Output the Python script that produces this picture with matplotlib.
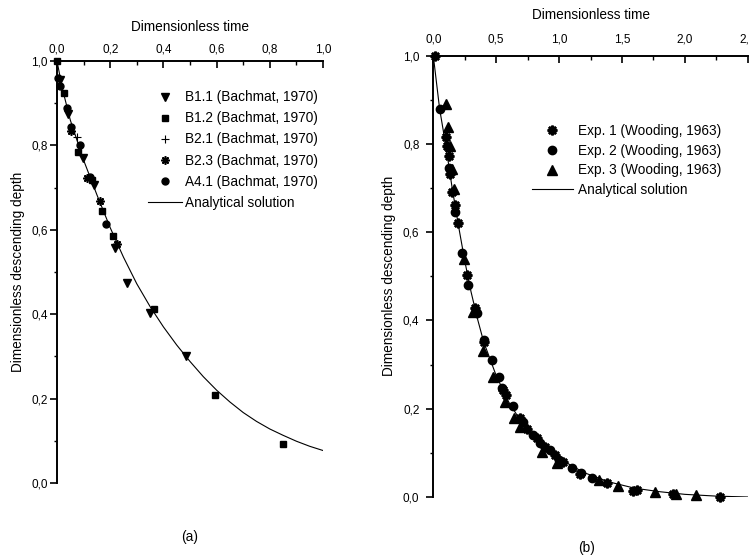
import matplotlib
matplotlib.use("Agg")
import matplotlib.pyplot as plt
from matplotlib.ticker import MultipleLocator, FuncFormatter

plt.rcParams['font.family'] = ['Liberation Sans', 'DejaVu Sans']

# ---------------- Panel (a) data ----------------
b11_t = [0.010, 0.042, 0.097, 0.140, 0.218, 0.264, 0.350, 0.485]
b11_y = [0.955, 0.875, 0.770, 0.706, 0.558, 0.475, 0.402, 0.301]
b12_t = [0.000, 0.026, 0.078, 0.130, 0.168, 0.210, 0.366, 0.594, 0.851]
b12_y = [1.000, 0.923, 0.785, 0.718, 0.645, 0.586, 0.412, 0.208, 0.092]
b21_t = [0.075]
b21_y = [0.820]
b23_t = [0.053, 0.112, 0.162, 0.227]
b23_y = [0.834, 0.722, 0.668, 0.567]
a41_t = [0.005, 0.012, 0.036, 0.054, 0.086, 0.124, 0.183]
a41_y = [0.960, 0.940, 0.888, 0.844, 0.800, 0.726, 0.614]
ana_a_t = [0.0, 0.02, 0.05, 0.10, 0.15, 0.20, 0.25, 0.30, 0.35, 0.40, 0.45,
           0.50, 0.55, 0.60, 0.65, 0.70, 0.75, 0.80, 0.85, 0.90, 0.95, 1.00]
ana_a_y = [1.0, 0.935, 0.86, 0.765, 0.683, 0.605, 0.535, 0.472, 0.418, 0.370, 0.327,
           0.288, 0.252, 0.220, 0.192, 0.167, 0.146, 0.128, 0.113, 0.099, 0.087, 0.077]

# ---------------- Panel (b) data ----------------
e1_t = [0.01, 0.10, 0.11, 0.122, 0.13, 0.15, 0.17, 0.195, 0.264, 0.333, 0.405,
        0.552, 0.578, 0.689, 0.748, 0.822, 0.888, 0.967, 1.033, 1.166, 1.378,
        1.59, 1.617, 1.903, 2.279]
e1_y = [1.0, 0.816, 0.795, 0.773, 0.733, 0.692, 0.662, 0.622, 0.503, 0.428, 0.352,
        0.242, 0.231, 0.178, 0.153, 0.133, 0.114, 0.095, 0.080, 0.052, 0.031,
        0.014, 0.015, 0.006, 0.0]
e2_t = [0.053, 0.125, 0.17, 0.232, 0.278, 0.349, 0.405, 0.464, 0.52, 0.543,
        0.636, 0.716, 0.795, 0.848, 0.928, 1.0, 1.1, 1.174, 1.259]
e2_y = [0.879, 0.745, 0.646, 0.552, 0.48, 0.418, 0.356, 0.31, 0.271, 0.247,
        0.206, 0.171, 0.14, 0.122, 0.106, 0.084, 0.065, 0.055, 0.042]
e3_t = [0.10, 0.12, 0.135, 0.15, 0.166, 0.243, 0.318, 0.397, 0.477, 0.57,
        0.641, 0.689, 0.862, 0.981, 1.32, 1.471, 1.762, 1.93, 2.088]
e3_y = [0.89, 0.839, 0.795, 0.743, 0.699, 0.539, 0.42, 0.331, 0.271, 0.216,
        0.18, 0.159, 0.103, 0.076, 0.038, 0.026, 0.012, 0.006, 0.005]
ana_b_t = [0.0, 0.05, 0.10, 0.15, 0.20, 0.25, 0.30, 0.35, 0.40, 0.50, 0.60, 0.70,
           0.80, 0.90, 1.00, 1.20, 1.40, 1.60, 1.80, 2.00, 2.25, 2.50]
ana_b_y = [1.0, 0.88, 0.795, 0.70, 0.615, 0.535, 0.465, 0.405, 0.352, 0.275, 0.215,
           0.170, 0.135, 0.108, 0.087, 0.055, 0.034, 0.020, 0.012, 0.006, 0.002, 0.0]

fig = plt.figure(figsize=(7.49, 5.60), dpi=100)

def comma(v, pos):
    return f"{v:.1f}".replace('.', ',')

def style_axes(ax, xmajor, xminor, xmax, xpad, ypad):
    for s in ['right', 'bottom']:
        ax.spines[s].set_visible(False)
    for s in ['left', 'top']:
        ax.spines[s].set_linewidth(1.4)
    ax.xaxis.tick_top()
    ax.xaxis.set_label_position('top')
    ax.set_xlim(0, xmax)
    ax.set_ylim(0, 1.0)
    ax.xaxis.set_major_locator(MultipleLocator(xmajor))
    ax.xaxis.set_minor_locator(MultipleLocator(xminor))
    ax.yaxis.set_major_locator(MultipleLocator(0.2))
    ax.yaxis.set_minor_locator(MultipleLocator(0.1))
    ax.xaxis.set_major_formatter(FuncFormatter(comma))
    ax.yaxis.set_major_formatter(FuncFormatter(comma))
    ax.tick_params(axis='x', which='major', direction='in', length=5, width=1.2,
                   labelsize=8.5, pad=xpad, top=True, bottom=False)
    ax.tick_params(axis='x', which='minor', direction='in', length=3, width=1.0,
                   top=True, bottom=False)
    ax.tick_params(axis='y', which='major', direction='out', length=5, width=1.2,
                   labelsize=8.5, pad=ypad)
    ax.tick_params(axis='y', which='minor', direction='out', length=2.5, width=1.0)

# ---------- (a) ----------
ax1 = fig.add_axes([57/749, 1-483/560, 266/749, 422/560])
style_axes(ax1, 0.2, 0.1, 1.0, 4, 1.5)
ax1.plot(ana_a_t, ana_a_y, color='black', lw=0.8, label='Analytical solution', zorder=2)
ax1.plot(b11_t, b11_y, 'v', color='black', ms=5.5, label='B1.1 (Bachmat, 1970)', clip_on=False, zorder=3)
ax1.plot(b12_t, b12_y, 's', color='black', ms=4.5, label='B1.2 (Bachmat, 1970)', clip_on=False, zorder=3)
ax1.plot(b21_t, b21_y, '+', color='black', ms=6, mew=0.8, label='B2.1 (Bachmat, 1970)', clip_on=False, zorder=3)
ax1.plot(b23_t, b23_y, marker=(8, 2, 0), ls='none', color='black', ms=6, mew=1.2,
         label='B2.3 (Bachmat, 1970)', clip_on=False, zorder=3)
ax1.plot(a41_t, a41_y, 'o', color='black', ms=5, label='A4.1 (Bachmat, 1970)', clip_on=False, zorder=3)
h, l = ax1.get_legend_handles_labels()
order = [1, 2, 3, 4, 5, 0]
ax1.legend([h[i] for i in order], [l[i] for i in order], frameon=False, fontsize=9.8,
           loc='upper left', bbox_to_anchor=((148-57)/266, 1-(90-60.7)/422),
           bbox_transform=ax1.transAxes, borderaxespad=0, borderpad=0,
           handlelength=2.5, handletextpad=0.25, labelspacing=0.52)
ax1.set_xlabel('Dimensionless time', fontsize=9.8, labelpad=9)
ax1.set_ylabel('Dimensionless descending depth', fontsize=9.8, labelpad=5)

# ---------- (b) ----------
ax2 = fig.add_axes([433.3/749, 1-497/560, 314.5/749, 441.3/560])
style_axes(ax2, 0.5, 0.25, 2.5, 7, 5)
ax2.plot(ana_b_t, ana_b_y, color='black', lw=0.8, label='Analytical solution', zorder=2)
ax2.plot(e1_t, e1_y, marker=(8, 2, 0), ls='none', color='black', ms=7, mew=1.8,
         label='Exp. 1 (Wooding, 1963)', clip_on=False, zorder=3)
ax2.plot(e2_t, e2_y, 'o', color='black', ms=6, label='Exp. 2 (Wooding, 1963)', clip_on=False, zorder=3)
ax2.plot(e3_t, e3_y, '^', color='black', ms=6.5, label='Exp. 3 (Wooding, 1963)', clip_on=False, zorder=3)
h, l = ax2.get_legend_handles_labels()
order = [1, 2, 3, 0]
ax2.legend([h[i] for i in order], [l[i] for i in order], frameon=False, fontsize=9.8,
           loc='upper left', bbox_to_anchor=((532-433.3)/314.5, 1-(124-55.7)/441.3),
           bbox_transform=ax2.transAxes, borderaxespad=0, borderpad=0,
           handlelength=3.0, handletextpad=0.4, labelspacing=0.42)
ax2.set_xlabel('Dimensionless time', fontsize=9.8, labelpad=11)
ax2.set_ylabel('Dimensionless descending depth', fontsize=9.8, labelpad=5)

fig.text(190/749, 1-537/560, '(a)', ha='center', va='center', fontsize=9.8)
fig.text(587/749, 1-548/560, '(b)', ha='center', va='center', fontsize=9.8)

fig.savefig('out.png', dpi=100)
